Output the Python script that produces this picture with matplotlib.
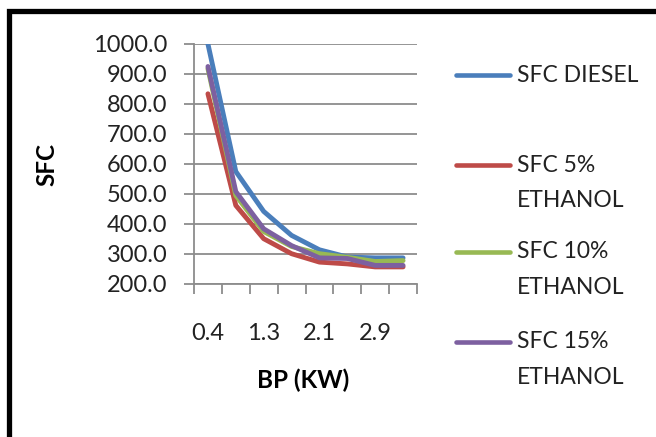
import matplotlib
matplotlib.use("Agg")
import matplotlib.pyplot as plt
from matplotlib.lines import Line2D
from matplotlib.patches import Rectangle
from matplotlib.ticker import FixedLocator, NullFormatter, FixedFormatter

plt.rcParams["font.family"] = ["Lato", "DejaVu Sans"]

# brake power (kW) and specific fuel consumption per blend
bp = [0.4, 0.9, 1.3, 1.7, 2.1, 2.5, 2.9, 3.3]
sfc_diesel = [1000.0, 575.0, 442.0, 362.0, 314.0, 290.0, 287.0, 287.0]
sfc_e5 = [834.0, 462.0, 351.0, 301.0, 273.0, 267.0, 257.0, 257.0]
sfc_e10 = [918.0, 495.0, 375.0, 325.0, 301.0, 289.0, 275.0, 278.0]
sfc_e15 = [925.0, 508.0, 384.0, 328.0, 287.0, 285.0, 262.0, 262.0]

series = [
    (sfc_diesel, "#4A7EBB", ["SFC DIESEL"]),
    (sfc_e5, "#BE4B48", ["SFC 5%", "ETHANOL"]),
    (sfc_e10, "#98B954", ["SFC 10%", "ETHANOL"]),
    (sfc_e15, "#7D60A0", ["SFC 15%", "ETHANOL"]),
]
y_ticks = [200, 300, 400, 500, 600, 700, 800, 900, 1000]

FS = 17
W, H = 656, 437
fig = plt.figure(figsize=(W / 100, H / 100), dpi=100)
px = lambda x, y: (x / W, 1 - y / H)

ax = fig.add_axes([194 / W, 1 - 284 / H, 223 / W, 240 / H])
idx = list(range(len(bp)))
for vals, color, _ in series:
    ax.plot(idx, vals, color=color, lw=3.5, solid_capstyle="round", solid_joinstyle="round")

ax.set_xlim(-0.5, len(bp) - 0.5)
ax.set_ylim(200, 1000)
ax.set_yticks(y_ticks)
ax.set_yticklabels([f"{v:.1f}" for v in y_ticks])
ax.yaxis.grid(True, color="#8c8c8c", lw=1.3)
ax.set_axisbelow(True)

# category boundaries carry tick marks, every other category gets a label
ax.xaxis.set_major_locator(FixedLocator([i - 0.5 for i in range(len(bp) + 1)]))
ax.xaxis.set_major_formatter(NullFormatter())
lab_pos = idx[::2]
ax.xaxis.set_minor_locator(FixedLocator(lab_pos))
ax.xaxis.set_minor_formatter(FixedFormatter([f"{bp[i]:.1f}" for i in lab_pos]))
ax.tick_params(axis="x", which="major", length=7, width=1.3, color="#8c8c8c", direction="out")
ax.tick_params(axis="x", which="minor", length=0, pad=28, labelsize=FS, labelcolor="#222222")
ax.tick_params(axis="y", length=7, width=1.3, color="#8c8c8c", direction="out",
               pad=12, labelsize=FS, labelcolor="#222222")

for s in ("top", "right"):
    ax.spines[s].set_visible(False)
for s in ("left", "bottom"):
    ax.spines[s].set_color("#8c8c8c")
    ax.spines[s].set_linewidth(1.3)

ax.set_xlabel("BP (KW)", fontsize=17.5, fontweight="bold")
ax.xaxis.set_label_coords(109 / 223, -96 / 240)
ax.xaxis.label.set_va("center")
ax.set_ylabel("SFC", fontsize=17.5, fontweight="bold")
ax.yaxis.set_label_coords(-147 / 223, 0.5)
ax.yaxis.label.set_va("center")

# legend: handle level with first text line, labels wrapped like the chart
rows = [75, 165, 252, 342]
for (vals, color, lines), y in zip(series, rows):
    x0, y0 = px(456, y)
    x1, _ = px(510, y)
    fig.add_artist(Line2D([x0, x1], [y0, y0], color=color, lw=3.3, solid_capstyle="round"))
    for k, t in enumerate(lines):
        tx, ty = px(517, y + 35 * k)
        fig.text(tx, ty, t, fontsize=16.5, va="center", ha="left", color="#222222")

fig.add_artist(Rectangle(px(8.5, H + 20), (W + 20) / W, (H + 20 - 10.5) / H,
                         transform=fig.transFigure, fill=False, ec="black", lw=3.8))

fig.savefig("out.png", dpi=100)
